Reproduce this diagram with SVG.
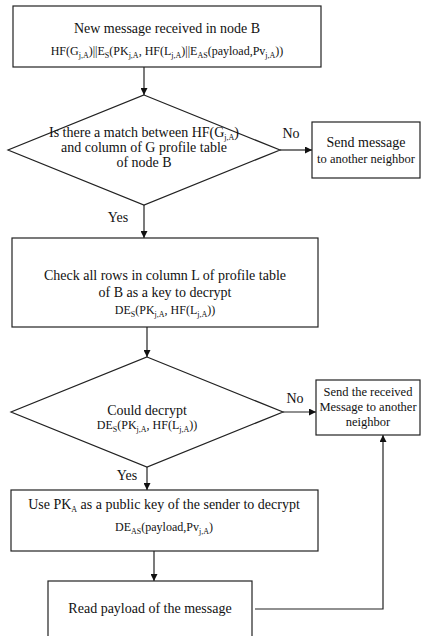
<svg xmlns="http://www.w3.org/2000/svg" width="421" height="636" viewBox="0 0 421 636">
  <style>
    .box { fill: #fff; stroke: #222; stroke-width: 1.2; }
    .line { fill: none; stroke: #222; stroke-width: 1.2; }
    text { font-family: "Liberation Serif", "DejaVu Serif", serif; fill: #111; }
    .t { font-size: 14px; text-anchor: middle; }
    .s { font-size: 12.5px; text-anchor: middle; }
    .f { font-size: 12px; text-anchor: middle; }
    .lbl { font-size: 14px; text-anchor: middle; }
    .sub { font-size: 8px; }
  </style>
  <defs>
    <marker id="arrow" viewBox="0 0 10 10" refX="10" refY="5" markerWidth="7" markerHeight="7" markerUnits="userSpaceOnUse" orient="auto">
      <path d="M0,0 L10,5 L0,10 z" fill="#111"/>
    </marker>
  </defs>
  <rect width="421" height="636" fill="#fff"/>

  <g id="connectors">
    <line class="line" x1="144" y1="67" x2="144" y2="95" marker-end="url(#arrow)"/>
    <line class="line" x1="280" y1="150" x2="312" y2="150" marker-end="url(#arrow)"/>
    <line class="line" x1="144" y1="205" x2="144" y2="238" marker-end="url(#arrow)"/>
    <line class="line" x1="147" y1="327" x2="147" y2="357" marker-end="url(#arrow)"/>
    <line class="line" x1="283" y1="412" x2="316" y2="412" marker-end="url(#arrow)"/>
    <line class="line" x1="147" y1="467" x2="147" y2="490" marker-end="url(#arrow)"/>
    <line class="line" x1="154" y1="551" x2="154" y2="581" marker-end="url(#arrow)"/>
    <polyline class="line" points="255,609 383,609 383,435" marker-end="url(#arrow)"/>
    <text class="lbl" x="291" y="138">No</text>
    <text class="lbl" x="118" y="222">Yes</text>
    <text class="lbl" x="295" y="403">No</text>
    <text class="lbl" x="127" y="480">Yes</text>
  </g>

  <g id="received">
    <rect class="box" x="13" y="6" width="308" height="61"/>
    <text class="t" x="167" y="33">New message received in node B</text>
    <text class="f" x="167" y="55">HF(G<tspan class="sub" dy="3">j,A</tspan><tspan dy="-3">)||E</tspan><tspan class="sub" dy="3">S</tspan><tspan dy="-3">(PK</tspan><tspan class="sub" dy="3">j,A</tspan><tspan dy="-3">, HF(L</tspan><tspan class="sub" dy="3">j,A</tspan><tspan dy="-3">)||E</tspan><tspan class="sub" dy="3">AS</tspan><tspan dy="-3">(payload,Pv</tspan><tspan class="sub" dy="3">j,A</tspan><tspan dy="-3">))</tspan></text>
  </g>

  <g id="match">
    <polygon class="box" points="144,95 280,150 144,205 8,150"/>
    <text class="t" x="144" y="137">Is there a match between HF(G<tspan class="sub" dy="3">j,A</tspan><tspan dy="-3">)</tspan></text>
    <text class="t" x="144" y="152">and column of G profile table</text>
    <text class="t" x="144" y="167">of node B</text>
  </g>

  <g id="forward1">
    <rect class="box" x="312" y="122" width="108" height="56"/>
    <text class="t" x="366" y="147">Send message</text>
    <text class="s" x="366" y="163">to another neighbor</text>
  </g>

  <g id="check">
    <rect class="box" x="12" y="238" width="306" height="89"/>
    <text class="t" x="165" y="280">Check all rows in column L of profile table</text>
    <text class="t" x="165" y="297">of B as a key to decrypt</text>
    <text class="f" x="165" y="314">DE<tspan class="sub" dy="3">S</tspan><tspan dy="-3">(PK</tspan><tspan class="sub" dy="3">j,A</tspan><tspan dy="-3">, HF(L</tspan><tspan class="sub" dy="3">j,A</tspan><tspan dy="-3">))</tspan></text>
  </g>

  <g id="decrypt">
    <polygon class="box" points="147,357 283,412 147,467 11,412"/>
    <text class="t" x="147" y="415">Could decrypt</text>
    <text class="f" x="147" y="429">DE<tspan class="sub" dy="3">S</tspan><tspan dy="-3">(PK</tspan><tspan class="sub" dy="3">j,A</tspan><tspan dy="-3">, HF(L</tspan><tspan class="sub" dy="3">j,A</tspan><tspan dy="-3">))</tspan></text>
  </g>

  <g id="forward2">
    <rect class="box" x="316" y="380" width="104" height="55"/>
    <text class="s" x="368" y="396">Send the received</text>
    <text class="s" x="368" y="411">Message to another</text>
    <text class="s" x="368" y="426">neighbor</text>
  </g>

  <g id="public-key">
    <rect class="box" x="11" y="490" width="307" height="61"/>
    <text class="t" x="164" y="509">Use PK<tspan class="sub" dy="3">A</tspan><tspan dy="-3"> as a public key of the sender to decrypt</tspan></text>
    <text class="f" x="164" y="531">DE<tspan class="sub" dy="3">AS</tspan><tspan dy="-3">(payload,Pv</tspan><tspan class="sub" dy="3">j,A</tspan><tspan dy="-3">)</tspan></text>
  </g>

  <g id="read">
    <rect class="box" x="48" y="581" width="204" height="70"/>
    <text class="t" x="150" y="613">Read payload of the message</text>
  </g>
</svg>
